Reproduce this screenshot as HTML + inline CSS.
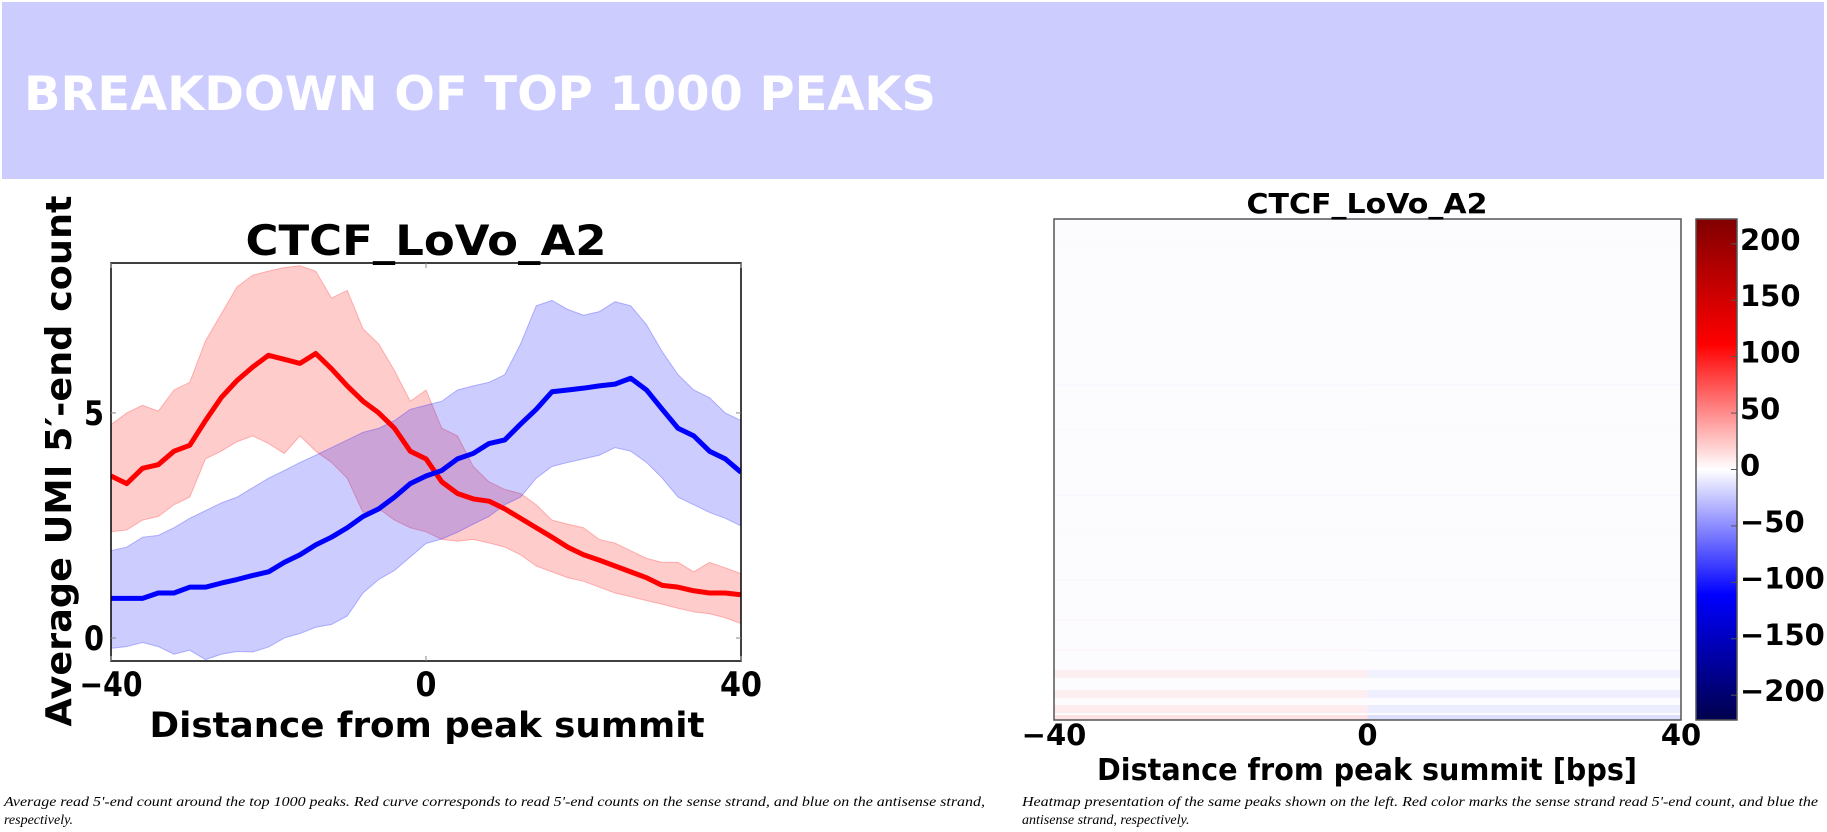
<!DOCTYPE html>
<html><head><meta charset="utf-8"><style>
body{margin:0;width:1827px;height:832px;background:#fff;overflow:hidden;position:relative;font-family:"Liberation Sans",sans-serif}
#hdr{position:absolute;left:2px;top:2px;width:1822px;height:177px;background:#ccccff}
svg{position:absolute;left:0;top:0}
</style></head><body>
<div id="hdr"></div>
<svg id="s" width="1827" height="832"></svg>
<script>
const xs=[-40,-38,-36,-34,-32,-30,-28,-26,-24,-22,-20,-18,-16,-14,-12,-10,-8,-6,-4,-2,0,2,4,6,8,10,12,14,16,18,20,22,24,26,28,30,32,34,36,38,40];
const redMean=[3.6,3.43,3.77,3.85,4.15,4.28,4.83,5.34,5.72,6.02,6.28,6.19,6.1,6.32,5.98,5.6,5.26,5.0,4.66,4.15,3.98,3.47,3.21,3.09,3.04,2.87,2.66,2.45,2.24,2.02,1.85,1.73,1.6,1.47,1.34,1.17,1.13,1.05,1.0,1.0,0.96];
const redUpper=[4.74,5.0,5.17,5.04,5.51,5.68,6.6,7.2,7.8,8.06,8.15,8.23,8.27,8.15,7.55,7.72,6.87,6.53,5.94,5.26,5.51,4.66,4.49,3.81,3.47,3.3,3.21,2.96,2.62,2.53,2.45,2.19,2.11,1.94,1.77,1.68,1.68,1.47,1.68,1.56,1.43];
const redLower=[2.36,2.4,2.62,2.7,2.96,3.13,3.98,4.15,4.36,4.49,4.32,4.1,4.49,4.15,3.9,3.55,2.79,2.87,2.62,2.45,2.36,2.19,2.15,2.19,2.11,2.02,1.85,1.6,1.47,1.34,1.26,1.13,1.0,0.92,0.83,0.75,0.66,0.58,0.54,0.45,0.32];
const blueMean=[0.88,0.88,0.88,1.0,1.0,1.13,1.13,1.22,1.3,1.39,1.47,1.68,1.85,2.07,2.24,2.45,2.7,2.87,3.13,3.43,3.6,3.72,3.98,4.1,4.32,4.4,4.75,5.08,5.47,5.51,5.55,5.6,5.64,5.77,5.51,5.08,4.66,4.49,4.15,3.98,3.68];
const blueUpper=[1.94,2.02,2.24,2.28,2.45,2.66,2.83,3.0,3.13,3.34,3.55,3.72,3.9,4.06,4.23,4.4,4.57,4.66,4.83,5.08,5.17,5.26,5.51,5.6,5.68,5.85,6.53,7.38,7.5,7.3,7.17,7.25,7.47,7.38,6.96,6.36,5.85,5.51,5.34,5.0,4.83];
const blueLower=[-0.23,-0.19,-0.1,-0.19,-0.36,-0.27,-0.48,-0.36,-0.3,-0.31,-0.2,0,0.1,0.24,0.3,0.49,1.0,1.3,1.5,1.8,2.1,2.2,2.35,2.53,2.7,2.96,3.13,3.55,3.81,3.9,3.98,4.06,4.23,4.15,3.9,3.55,3.13,2.96,2.79,2.66,2.49];
const xTicks=[-40,0,40];
const yTicks=[0,5];
const cbTicks=[200,150,100,50,0,-50,-100,-150,-200];
// heatmap rows: [row fraction from top, left-half value, right-half value]
const hmRowPos=[0.05,0.33,0.42,0.55,0.63,0.72,0.8,0.86,0.9,0.94,0.97,0.99];
const hmLeft=[6,-8,10,-12,8,10,12,16,20,22,26,40];
const hmRight=[-6,-10,-8,-10,-6,-8,-10,-14,-16,-20,-24,-45];

const NS='http://www.w3.org/2000/svg',S=document.getElementById('s');
function el(t,a,p){const e=document.createElementNS(NS,t);for(const k in a)e.setAttribute(k,a[k]);(p||S).appendChild(e);return e}
function tx(str,a,p){const e=el('text',a,p);e.textContent=str;return e}
tx('BREAKDOWN OF TOP 1000 PEAKS',{x:24,y:110,fill:'#fff','font-family':'"DejaVu Sans",sans-serif','font-weight':'bold','font-size':47,textLength:912,lengthAdjust:'spacingAndGlyphs',});
// left chart
const L={x0:111,x1:741,y0:263,y1:661,ymin:-0.51,ymax:8.33};
const X=v=>L.x0+(v+40)/80*(L.x1-L.x0);
const Y=v=>L.y1-(v-L.ymin)/(L.ymax-L.ymin)*(L.y1-L.y0);
const g=el('g',{});
const cp=el('clipPath',{id:'cp'},g);
el('rect',{x:L.x0,y:L.y0,width:L.x1-L.x0,height:L.y1-L.y0},cp);
const pg=el('g',{'clip-path':'url(#cp)'},g);
function band(up,lo,fill,name){let d='M'+xs.map((x,i)=>X(x)+','+Y(up[i])).join('L');for(let i=xs.length-1;i>=0;i--)d+='L'+X(xs[i])+','+Y(lo[i]);
 const p=el('path',{d:d+'Z',fill:fill,'fill-opacity':0.2,stroke:fill,'stroke-opacity':0.25,'stroke-width':1},pg);
 
 }
band(redUpper,redLower,'#ff0000','red-confidence-band');
band(blueUpper,blueLower,'#0000ff','blue-confidence-band');
function line(v,c,name){const p=el('path',{d:'M'+xs.map((x,i)=>X(x)+','+Y(v[i])).join('L'),fill:'none',stroke:c,'stroke-width':5,'stroke-linejoin':'round'},pg);
 
 }
line(redMean,'#ff0000','sense-strand-line');
line(blueMean,'#0000ff','antisense-strand-line');
el('rect',{x:L.x0,y:L.y0,width:L.x1-L.x0,height:L.y1-L.y0,fill:'none',stroke:'#000','stroke-width':1.5,},g);
const F='"DejaVu Sans",sans-serif';
xTicks.forEach(t=>{el('line',{x1:X(t),x2:X(t),y1:L.y1,y2:L.y1-5,stroke:'#888'},g);el('line',{x1:X(t),x2:X(t),y1:L.y0,y2:L.y0+5,stroke:'#888'},g);
 const s=t<0?'\u2212'+(-t):String(t);
 const e=tx(s,{x:X(t),y:696,'text-anchor':'middle','font-family':F,'font-weight':'bold','font-size':34,textLength:s.length*21,lengthAdjust:'spacingAndGlyphs'},g);
 
 });
yTicks.forEach(t=>{el('line',{x1:L.x0,x2:L.x0+5,y1:Y(t),y2:Y(t),stroke:'#888'},g);el('line',{x1:L.x1,x2:L.x1-5,y1:Y(t),y2:Y(t),stroke:'#888'},g);
 const e=tx(String(t),{x:104,y:Y(t)+12,'text-anchor':'end','font-family':F,'font-weight':'bold','font-size':34,textLength:20,lengthAdjust:'spacingAndGlyphs'},g);
 
 });
tx('CTCF_LoVo_A2',{x:426,y:255,'text-anchor':'middle','font-family':F,'font-weight':'bold','font-size':42,textLength:361,lengthAdjust:'spacingAndGlyphs',},g);
tx('Distance from peak summit',{x:427,y:737,'text-anchor':'middle','font-family':F,'font-weight':'bold','font-size':35,textLength:555,lengthAdjust:'spacingAndGlyphs',},g);
tx('Average UMI 5\u2032-end count',{x:0,y:0,transform:'translate(71,461) rotate(-90)','text-anchor':'middle','font-family':F,'font-weight':'bold','font-size':36,textLength:531,lengthAdjust:'spacingAndGlyphs',},g);
// heatmap
const H={x0:1054,x1:1681,y0:219,y1:720};
function seis(v){const t=Math.max(0,Math.min(1,(v+222)/444));const st=[[0,0,0,76],[0.25,0,0,255],[0.5,255,255,255],[0.75,255,0,0],[1,128,0,0]];
 for(let i=0;i<4;i++){const a=st[i],b=st[i+1];if(t<=b[0]){const f=(t-a[0])/(b[0]-a[0]);return 'rgb('+[1,2,3].map(k=>Math.round(a[k]+(b[k]-a[k])*f)).join(',')+')'}}return 'rgb(128,0,0)'}
const hg=el('g',{});
el('rect',{x:H.x0,y:H.y0,width:H.x1-H.x0,height:H.y1-H.y0,fill:'#fcfcff'},hg);
hmRowPos.forEach((r,i)=>{const y=H.y0+r*(H.y1-H.y0);const hgt=i>=8?Math.min(8,H.y1-y):1;
 const a=el('rect',{x:H.x0,y:y,width:(H.x1-H.x0)/2,height:hgt,fill:seis(hmLeft[i]),'fill-opacity':0.3},hg);
 
 
 const b=el('rect',{x:(H.x0+H.x1)/2,y:y,width:(H.x1-H.x0)/2,height:hgt,fill:seis(hmRight[i]),'fill-opacity':0.3},hg);
 
 });
el('rect',{x:H.x0,y:H.y0,width:H.x1-H.x0,height:H.y1-H.y0,fill:'none',stroke:'#555','stroke-width':1.5},hg);
const HX=v=>H.x0+(v+40)/80*(H.x1-H.x0);
xTicks.forEach(t=>{const e=tx(t<0?'\u2212'+(-t):String(t),{x:HX(t),y:745,'text-anchor':'middle','font-family':F,'font-weight':'bold','font-size':29},hg);
 
 });
tx('CTCF_LoVo_A2',{x:1367,y:213,'text-anchor':'middle','font-family':F,'font-weight':'bold','font-size':28,textLength:241,lengthAdjust:'spacingAndGlyphs',},hg);
tx('Distance from peak summit [bps]',{x:1367,y:780,'text-anchor':'middle','font-family':F,'font-weight':'bold','font-size':30,textLength:540,lengthAdjust:'spacingAndGlyphs',},hg);
// colorbar
const C={x0:1696,x1:1737,y0:219,y1:720,v:222};
const CY=v=>C.y0+(C.v-v)/(2*C.v)*(C.y1-C.y0);
const cg=el('g',{});
const defs=el('defs',{},cg);const lg=el('linearGradient',{id:'cb',x1:0,y1:0,x2:0,y2:1},defs);
for(let i=0;i<=20;i++){el('stop',{offset:i/20,'stop-color':seis(C.v-i/20*2*C.v)},lg)}
el('rect',{x:C.x0,y:C.y0,width:C.x1-C.x0,height:C.y1-C.y0,fill:'url(#cb)',stroke:'#555','stroke-width':1.5},cg);
cbTicks.forEach(t=>{el('line',{x1:C.x1-6,x2:C.x1,y1:CY(t),y2:CY(t),stroke:'#555'},cg);
 const e=tx(t<0?'\u2212'+(-t):String(t),{x:1740,y:CY(t)+6,'font-family':F,'font-weight':'bold','font-size':29},cg);
 
 });
// captions
const CF='"Liberation Serif",serif';
tx('Average read 5\'-end count around the top 1000 peaks. Red curve corresponds to read 5\'-end counts on the sense strand, and blue on the antisense strand,',{x:4,y:806,'font-family':CF,'font-style':'italic','font-size':14,textLength:981,lengthAdjust:'spacingAndGlyphs',});
tx('respectively.',{x:4,y:824,'font-family':CF,'font-style':'italic','font-size':14,});
tx('Heatmap presentation of the same peaks shown on the left. Red color marks the sense strand read 5\'-end count, and blue the',{x:1022,y:806,'font-family':CF,'font-style':'italic','font-size':14,textLength:796,lengthAdjust:'spacingAndGlyphs',});
tx('antisense strand, respectively.',{x:1022,y:824,'font-family':CF,'font-style':'italic','font-size':14,});
</script>
</body></html>
